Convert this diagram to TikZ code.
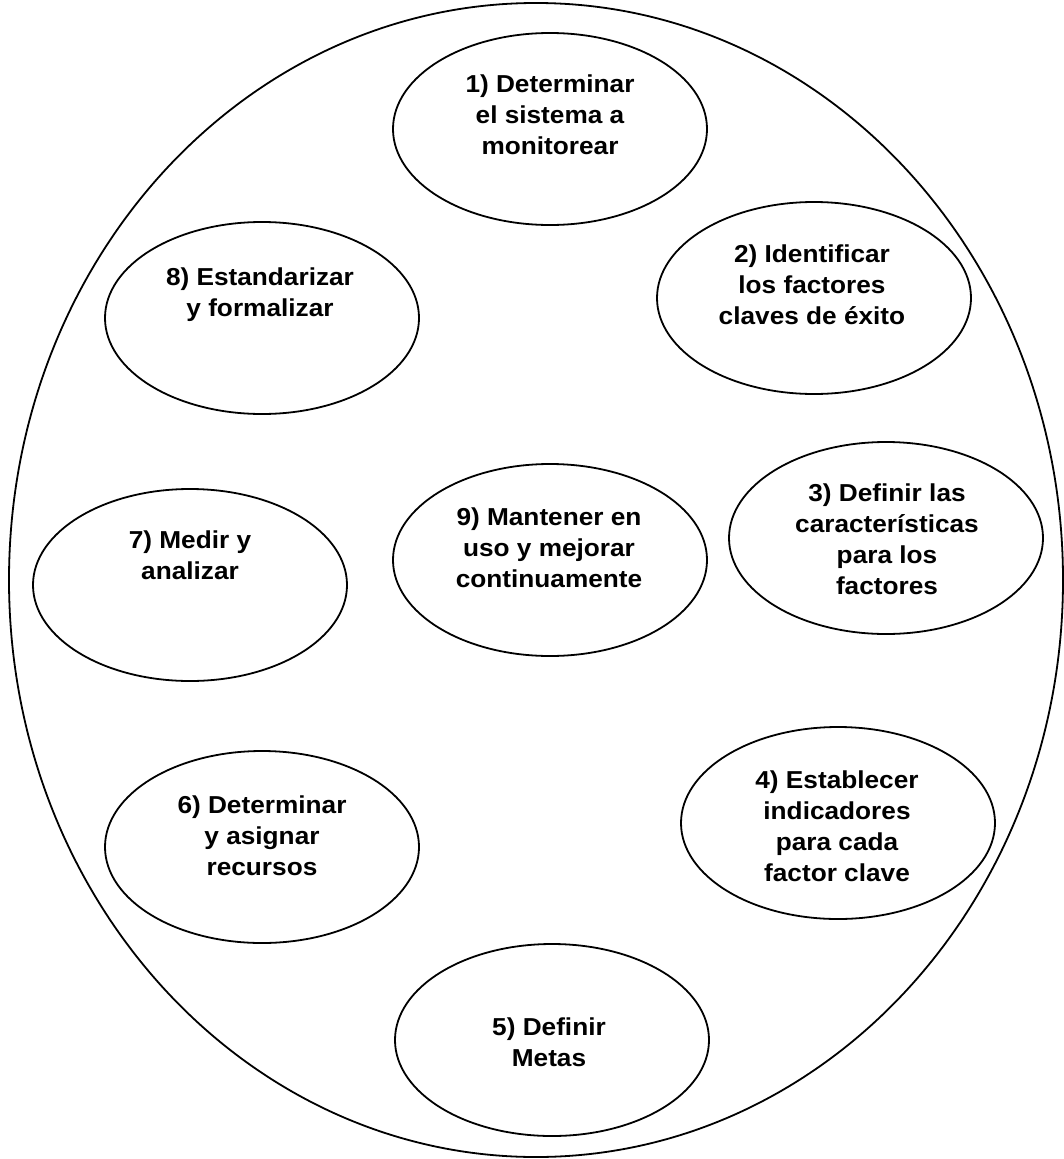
\documentclass[tikz,border=0pt]{standalone}
\usepackage{fontspec}
\setmainfont{Liberation Sans}
\newfontfamily\lblfont[FakeStretch=1.07]{Liberation Sans}
\usetikzlibrary{shapes.geometric}
\begin{document}
\begin{tikzpicture}[x=1pt,y=-1pt,
  outerell/.style={ellipse, draw=black, line width=1.8pt, inner sep=0pt,
    minimum width=1054pt, minimum height=1154pt},
  stepell/.style={ellipse, draw=black, line width=1.8pt, inner sep=0pt,
    minimum width=314pt, minimum height=192pt},
  lbl/.style={align=center, anchor=base, inner sep=0pt,
    font=\lblfont\bfseries\fontsize{24.5}{31}\selectfont}]
\fill[white] (0,0) rectangle (1064,1159);
\useasboundingbox (0,0) rectangle (1064,1159);
\node[outerell] (outer) at (536,580) {};
\node[stepell] (e1) at (550,129) {};
\node[stepell] (e2) at (814,298) {};
\node[stepell] (e8) at (262,318) {};
\node[stepell] (e9) at (550,560) {};
\node[stepell] (e7) at (190,585) {};
\node[stepell] (e3) at (886,538) {};
\node[stepell] (e4) at (838,823) {};
\node[stepell] (e6) at (262,847) {};
\node[stepell] (e5) at (552,1040) {};
% anchor=base is the baseline of the last line
\node[lbl] (t1) at (550,154) {1) Determinar\\el sistema a\\monitorear};
\node[lbl] (t2) at (812,324) {2) Identificar\\los factores\\claves de éxito};
\node[lbl] (t8) at (260,316) {8) Estandarizar\\y formalizar};
\node[lbl] (t9) at (549,587) {9) Mantener en\\uso y mejorar\\continuamente};
\node[lbl] (t7) at (190,579) {7) Medir y\\analizar};
\node[lbl] (t3) at (887,594) {3) Definir las\\características\\para los\\factores};
\node[lbl] (t4) at (837,881) {4) Establecer\\indicadores\\para cada\\factor clave};
\node[lbl] (t6) at (262,875) {6) Determinar\\y asignar\\recursos};
\node[lbl] (t5) at (549,1066) {5) Definir\\Metas};
\end{tikzpicture}
\end{document}
